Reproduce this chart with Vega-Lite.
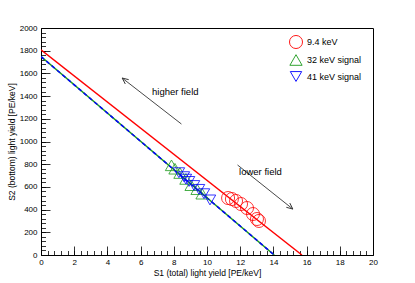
{
  "$schema": "https://vega.github.io/schema/vega-lite/v6.json",
  "width": 332,
  "height": 227,
  "autosize": "none",
  "padding": {"left": 41, "top": 28, "right": 42, "bottom": 28},
  "background": "white",
  "view": {"stroke": "black", "strokeWidth": 1, "fill": "white"},
  "config": {
    "font": "Liberation Sans",
    "axis": {"labelFont": "Liberation Sans", "titleFont": "Liberation Sans", "labelColor": "black", "titleColor": "black", "tickColor": "black", "domainColor": "black", "grid": false, "labelFontSize": 8, "titleFontSize": 8.5, "titleFontWeight": "normal", "labelFlush": false, "labelOverlap": false, "tickWidth": 0.8}
  },
  "datasets": {
    "lines": [
      {"series": "red", "x": 0, "y": 1808},
      {"series": "red", "x": 15.72, "y": 0},
      {"series": "green", "x": 0, "y": 1748},
      {"series": "green", "x": 14.05, "y": 0},
      {"series": "blue", "x": 0, "y": 1748},
      {"series": "blue", "x": 14.05, "y": 0}
    ],
    "points": [
      {"group": "9.4 keV", "x": 11.27, "y": 502},
      {"group": "9.4 keV", "x": 11.5, "y": 493},
      {"group": "9.4 keV", "x": 11.75, "y": 476},
      {"group": "9.4 keV", "x": 12.05, "y": 449},
      {"group": "9.4 keV", "x": 12.41, "y": 414},
      {"group": "9.4 keV", "x": 12.77, "y": 361},
      {"group": "9.4 keV", "x": 13.01, "y": 317},
      {"group": "9.4 keV", "x": 13.13, "y": 300},
      {"group": "32 keV signal", "x": 7.86, "y": 790},
      {"group": "32 keV signal", "x": 8.07, "y": 760},
      {"group": "32 keV signal", "x": 8.37, "y": 722},
      {"group": "32 keV signal", "x": 8.73, "y": 670},
      {"group": "32 keV signal", "x": 9.04, "y": 615},
      {"group": "32 keV signal", "x": 9.4, "y": 580},
      {"group": "32 keV signal", "x": 9.7, "y": 540},
      {"group": "41 keV signal", "x": 8.31, "y": 725},
      {"group": "41 keV signal", "x": 8.61, "y": 690},
      {"group": "41 keV signal", "x": 8.73, "y": 668},
      {"group": "41 keV signal", "x": 8.92, "y": 648},
      {"group": "41 keV signal", "x": 9.22, "y": 612},
      {"group": "41 keV signal", "x": 9.52, "y": 578},
      {"group": "41 keV signal", "x": 9.82, "y": 540},
      {"group": "41 keV signal", "x": 10.18, "y": 485}
    ],
    "arrows": [
      {"name": "higher", "x": 8.46, "y": 1154, "x2": 4.89, "y2": 1559},
      {"name": "lower", "x": 11.84, "y": 793, "x2": 15.17, "y2": 405}
    ],
    "labels": [
      {"text": "higher field", "x": 6.69, "y": 1436},
      {"text": "lower field", "x": 11.93, "y": 731}
    ]
  },
  "layer": [
    {
      "data": {"name": "lines"},
      "transform": [{"filter": "datum.series == 'red'"}],
      "mark": {"type": "line", "color": "#ff0000", "strokeWidth": 1.4, "clip": true},
      "encoding": {
        "x": {"field": "x", "type": "quantitative", "scale": {"domain": [0, 20], "nice": false, "zero": false},
          "axis": {"orient": "bottom", "values": [0, 2, 4, 6, 8, 10, 12, 14, 16, 18, 20], "format": "d", "tickSize": -9, "labelPadding": 12, "domain": false, "title": "S1 (total) light yield [PE/keV]", "titlePadding": 2}},
        "y": {"field": "y", "type": "quantitative", "scale": {"domain": [0, 2000], "nice": false, "zero": false},
          "axis": {"orient": "left", "values": [0, 200, 400, 600, 800, 1000, 1200, 1400, 1600, 1800, 2000], "format": "d", "tickSize": -9, "labelPadding": 13, "domain": false, "title": "S2 (bottom) light yield [PE/keV]", "titlePadding": 3}}
      }
    },
    {
      "data": {"name": "lines"},
      "transform": [{"filter": "datum.series == 'green'"}],
      "mark": {"type": "line", "color": "#1a991a", "strokeWidth": 1.5, "clip": true},
      "encoding": {
        "x": {"field": "x", "type": "quantitative", "scale": {"domain": [0, 20], "nice": false, "zero": false}, "axis": null},
        "y": {"field": "y", "type": "quantitative", "scale": {"domain": [0, 2000], "nice": false, "zero": false}, "axis": null}
      }
    },
    {
      "data": {"name": "lines"},
      "transform": [{"filter": "datum.series == 'blue'"}],
      "mark": {"type": "line", "color": "#0000ff", "strokeWidth": 1.5, "strokeDash": [4, 3], "clip": true},
      "encoding": {
        "x": {"field": "x", "type": "quantitative", "scale": {"domain": [0, 20], "nice": false, "zero": false}, "axis": null},
        "y": {"field": "y", "type": "quantitative", "scale": {"domain": [0, 2000], "nice": false, "zero": false}, "axis": null}
      }
    },
    {
      "data": {"name": "points"},
      "mark": {"type": "point", "filled": false, "strokeWidth": 0.8, "opacity": 1},
      "encoding": {
        "x": {"field": "x", "type": "quantitative", "scale": {"domain": [0, 20], "nice": false, "zero": false}, "axis": null},
        "y": {"field": "y", "type": "quantitative", "scale": {"domain": [0, 2000], "nice": false, "zero": false}, "axis": null},
        "color": {"field": "group", "type": "nominal", "scale": {"domain": ["9.4 keV", "32 keV signal", "41 keV signal"], "range": ["#ff0000", "#1a991a", "#0000ff"]},
          "legend": {"orient": "none", "legendX": 248, "legendY": 7, "title": null, "padding": 0, "symbolSize": 130, "symbolStrokeWidth": 0.9, "labelFontSize": 9, "labelFont": "Liberation Sans", "labelOffset": 4, "rowPadding": 1, "encode": {"labels": {"update": {"fill": {"scale": "color", "field": "value"}}}}}},
        "shape": {"field": "group", "type": "nominal", "scale": {"domain": ["9.4 keV", "32 keV signal", "41 keV signal"], "range": ["circle", "triangle-up", "triangle-down"]},
          "legend": {"orient": "none", "legendX": 248, "legendY": 7, "title": null, "padding": 0, "symbolSize": 130, "symbolStrokeWidth": 0.9, "labelFontSize": 9, "labelFont": "Liberation Sans", "labelOffset": 4, "rowPadding": 1, "encode": {"labels": {"update": {"fill": {"scale": "color", "field": "value"}}}}}},
        "size": {"field": "group", "type": "nominal", "scale": {"domain": ["9.4 keV", "32 keV signal", "41 keV signal"], "range": [170, 130, 130]}, "legend": null}
      }
    },
    {
      "data": {"name": "arrows"},
      "mark": {"type": "rule", "color": "#333333", "strokeWidth": 0.9},
      "encoding": {
        "x": {"field": "x", "type": "quantitative", "scale": {"domain": [0, 20], "nice": false, "zero": false},
          "axis": {"orient": "bottom", "values": [0, 0.4, 0.8, 1.2, 1.6, 2, 2.4, 2.8, 3.2, 3.6, 4, 4.4, 4.8, 5.2, 5.6, 6, 6.4, 6.8, 7.2, 7.6, 8, 8.4, 8.8, 9.2, 9.6, 10, 10.4, 10.8, 11.2, 11.6, 12, 12.4, 12.8, 13.2, 13.6, 14, 14.4, 14.8, 15.2, 15.6, 16, 16.4, 16.8, 17.2, 17.6, 18, 18.4, 18.8, 19.2, 19.6, 20], "tickSize": -4.5, "labels": false, "domain": false, "title": null}},
        "y": {"field": "y", "type": "quantitative", "scale": {"domain": [0, 2000], "nice": false, "zero": false},
          "axis": {"orient": "left", "values": [0, 40, 80, 120, 160, 200, 240, 280, 320, 360, 400, 440, 480, 520, 560, 600, 640, 680, 720, 760, 800, 840, 880, 920, 960, 1000, 1040, 1080, 1120, 1160, 1200, 1240, 1280, 1320, 1360, 1400, 1440, 1480, 1520, 1560, 1600, 1640, 1680, 1720, 1760, 1800, 1840, 1880, 1920, 1960, 2000], "tickSize": -4.5, "labels": false, "domain": false, "title": null}},
        "x2": {"field": "x2"},
        "y2": {"field": "y2"}
      }
    },
    {
      "data": {"name": "arrows"},
      "transform": [{"filter": "datum.name == 'higher'"}],
      "mark": {"type": "point", "shape": "M-0.45,1L0,0L0.45,1", "filled": false, "stroke": "#333333", "strokeWidth": 0.9, "opacity": 1, "size": 150, "angle": 308},
      "encoding": {
        "x": {"field": "x2", "type": "quantitative", "scale": {"domain": [0, 20], "nice": false, "zero": false}, "axis": null},
        "y": {"field": "y2", "type": "quantitative", "scale": {"domain": [0, 2000], "nice": false, "zero": false}, "axis": null}
      }
    },
    {
      "data": {"name": "arrows"},
      "transform": [{"filter": "datum.name == 'lower'"}],
      "mark": {"type": "point", "shape": "M-0.45,1L0,0L0.45,1", "filled": false, "stroke": "#333333", "strokeWidth": 0.9, "opacity": 1, "size": 150, "angle": 129},
      "encoding": {
        "x": {"field": "x2", "type": "quantitative", "scale": {"domain": [0, 20], "nice": false, "zero": false}, "axis": null},
        "y": {"field": "y2", "type": "quantitative", "scale": {"domain": [0, 2000], "nice": false, "zero": false}, "axis": null}
      }
    },
    {
      "data": {"name": "labels"},
      "mark": {"type": "text", "align": "left", "baseline": "middle", "fontSize": 9.5, "font": "Liberation Sans", "color": "black"},
      "encoding": {
        "x": {"field": "x", "type": "quantitative", "scale": {"domain": [0, 20], "nice": false, "zero": false}, "axis": null},
        "y": {"field": "y", "type": "quantitative", "scale": {"domain": [0, 2000], "nice": false, "zero": false}, "axis": null},
        "text": {"field": "text"}
      }
    }
  ],
  "resolve": {"axis": {"x": "independent", "y": "independent"}}
}
